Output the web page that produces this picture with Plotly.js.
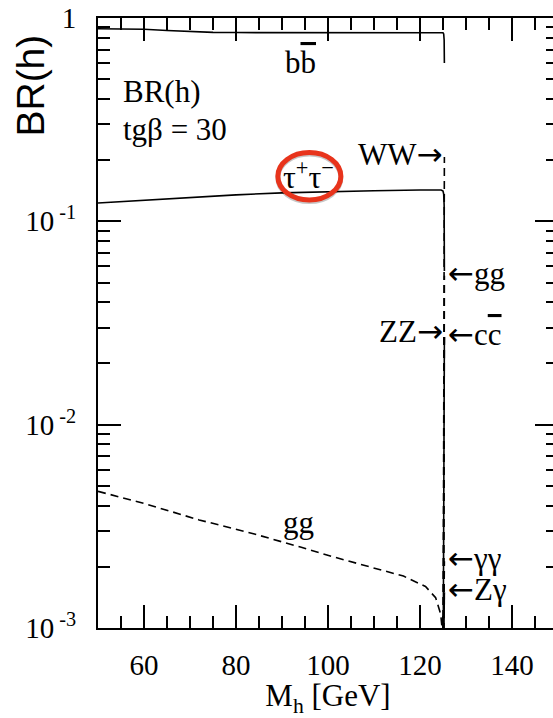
<!DOCTYPE html>
<html>
<head>
<meta charset="utf-8">
<script src="https://cdn.plot.ly/plotly-3.0.1.min.js"></script>
<style>
  html, body { margin: 0; padding: 0; overflow: hidden; background: #fff; }
  #chart { width: 560px; height: 718px; }
</style>
</head>
<body>
<div id="chart"></div>
<script>
// Light CP-even Higgs h: branching ratios versus M_h at tg(beta) = 30

// b b-bar
const massBB = [50, 55, 60, 65, 70, 75, 80, 90, 100, 110, 120, 124.6, 125.0, 125.15, 125.25, 125.3];
const brBB   = [0.886, 0.884, 0.880, 0.868, 0.856, 0.850, 0.848, 0.848, 0.848, 0.848, 0.848, 0.848, 0.846, 0.835, 0.78, 0.60];

// tau+ tau-
const massTT = [50, 60, 70, 80, 90, 100, 110, 120, 124.0, 124.6, 125.0, 125.15, 125.25, 125.3];
const brTT   = [0.123, 0.127, 0.131, 0.135, 0.138, 0.140, 0.1415, 0.1425, 0.1428, 0.1425, 0.141, 0.136, 0.120, 0.057];

// g g
const massGG = [50, 60, 72, 84, 94, 100.5, 109, 116.4, 121.2, 123.4, 124.5, 124.8, 125.1, 125.3];
const brGG   = [0.0047, 0.0041, 0.0034, 0.0029, 0.0025, 0.00226, 0.0020, 0.0018, 0.0016, 0.00141, 0.00117, 0.0010, 0.0005, 0.054];

// channels that only switch on at the upper end of the mass range
const massWW = [125.0, 125.3];  const brWW = [0.0004, 0.207];
const massZZ = [125.0, 125.3];  const brZZ = [0.0004, 0.028];
const massCC = [125.0, 125.3];  const brCC = [0.0004, 0.027];
const massAA = [125.0, 125.3];  const brAA = [0.0004, 0.00213];
const massZA = [125.0, 125.3];  const brZA = [0.0004, 0.00150];

// axis ticks
const yTickVals = [0.001, 0.01, 0.1, 1];
const yTickText = ['10<sup> -3</sup>', '10<sup> -2</sup>', '10<sup> -1</sup>', '1'];
const xTickVals = [60, 80, 100, 120, 140];

// labels at the upper ends of the steep curves
const ARROW_R = '<span style="font-family:DejaVu Sans">\u2192</span>';
const ARROW_L = '<span style="font-family:DejaVu Sans">\u2190</span>';
const endText = ['WW' + ARROW_R, ARROW_L + 'gg', 'ZZ' + ARROW_R,
                 ARROW_L + 'c<span style="text-decoration:overline">c</span>',
                 ARROW_L + '\u03b3\u03b3', ARROW_L + 'Z\u03b3'];
const endMass = [massWW, massGG, massZZ, massCC, massAA, massZA];
const endBR   = [brWW, brGG, brZZ, brCC, brAA, brZA];
const endSide = ['right', 'left', 'right', 'left', 'left', 'left'];

const SERIF = '"Liberation Serif", "Times New Roman", serif';
const DASH = '8px,5px';

function curve(x, y, dash) {
  return {
    x: x, y: y, type: 'scatter', mode: 'lines', hoverinfo: 'skip',
    line: { color: '#000', width: 1.6, dash: dash || 'solid' }
  };
}

const data = [
  curve(massBB, brBB),
  curve(massTT, brTT),
  curve(massGG, brGG, DASH),
  curve(massWW, brWW, DASH),
  curve(massZZ, brZZ, DASH),
  curve(massCC, brCC),
  curve(massAA, brAA, DASH),
  curve(massZA, brZA)
];

const annotations = [
  { text: 'b<span style="text-decoration:overline">b</span>', x: 94, y: -0.22, xanchor: 'center' },
  { text: 'BR(h)', x: 55.1, y: -0.36, xanchor: 'left' },
  { text: 'tg\u03b2 = 30', x: 55.1, y: -0.55, xanchor: 'left' },
  { text: '\u03c4<sup>+</sup>\u03c4<sup>\u2212</sup>', x: 95.8, y: -0.77, xanchor: 'center', size: 32 },
  { text: 'gg', x: 93.6, y: -2.48, xanchor: 'center' }
].map(a => ({
  text: a.text, x: a.x, y: a.y, xref: 'x', yref: 'y',
  xanchor: a.xanchor, yanchor: 'middle', showarrow: false,
  font: { family: SERIF, size: a.size || 31, color: '#000' }
}));

endText.forEach((t, i) => {
  const xs = endMass[i], ys = endBR[i];
  const right = endSide[i] === 'right';
  annotations.push({
    text: t, xref: 'x', yref: 'y',
    x: xs[xs.length - 1], y: Math.log10(ys[ys.length - 1]),
    xanchor: right ? 'right' : 'left', xshift: right ? 1 : 2,
    yanchor: 'middle', yshift: 3, showarrow: false,
    font: { family: SERIF, size: 31, color: '#000' }
  });
});

// vertical axis title
annotations.push({
  text: 'BR(h)', xref: 'paper', yref: 'paper', x: -0.146, y: 0.889,
  xanchor: 'center', yanchor: 'middle', textangle: -90, showarrow: false,
  font: { family: '"Liberation Sans", Arial, sans-serif', size: 39, color: '#000' }
});

function axisBase() {
  return {
    showline: true, linecolor: '#000', linewidth: 2, mirror: 'ticks',
    ticks: 'inside', ticklen: 23, tickwidth: 2, tickcolor: '#000',
    showgrid: false, zeroline: false, layer: 'above traces',
    tickfont: { family: SERIF, size: 29, color: '#000' }
  };
}

const layout = {
  width: 560, height: 718,
  margin: { l: 98, r: 2, t: 18, b: 90 },
  paper_bgcolor: '#fff', plot_bgcolor: 'rgba(0,0,0,0)',
  showlegend: false,
  xaxis: Object.assign(axisBase(), {
    range: [50, 150], tickmode: 'array', tickvals: xTickVals,
    ticklabelstandoff: 10,
    minor: { ticks: 'inside', ticklen: 12, tickwidth: 2, tickcolor: '#000', dtick: 5 },
    title: { text: 'M<sub>h</sub> [GeV]', standoff: 26, font: { family: SERIF, size: 31, color: '#000' } }
  }),
  yaxis: Object.assign(axisBase(), {
    type: 'log', range: [-3, 0], tickmode: 'array',
    tickvals: yTickVals, ticktext: yTickText,
    ticklabelstandoff: 14,
    minor: { ticks: 'inside', ticklen: 12, tickwidth: 2, tickcolor: '#000', dtick: 'D1' }
  }),
  annotations: annotations,
  shapes: [
    { type: 'circle', xref: 'x', yref: 'paper', x0: 89.1, x1: 102.8, y0: 0.699, y1: 0.777,
      line: { color: 'rgba(0,0,0,0.22)', width: 5 }, layer: 'above' },
    { type: 'circle', xref: 'x', yref: 'paper', x0: 89.1, x1: 102.8, y0: 0.7015, y1: 0.7795,
      line: { color: '#e8341c', width: 5 }, layer: 'above' }
  ]
};

Plotly.newPlot('chart', data, layout, { staticPlot: true });
</script>
</body>
</html>
